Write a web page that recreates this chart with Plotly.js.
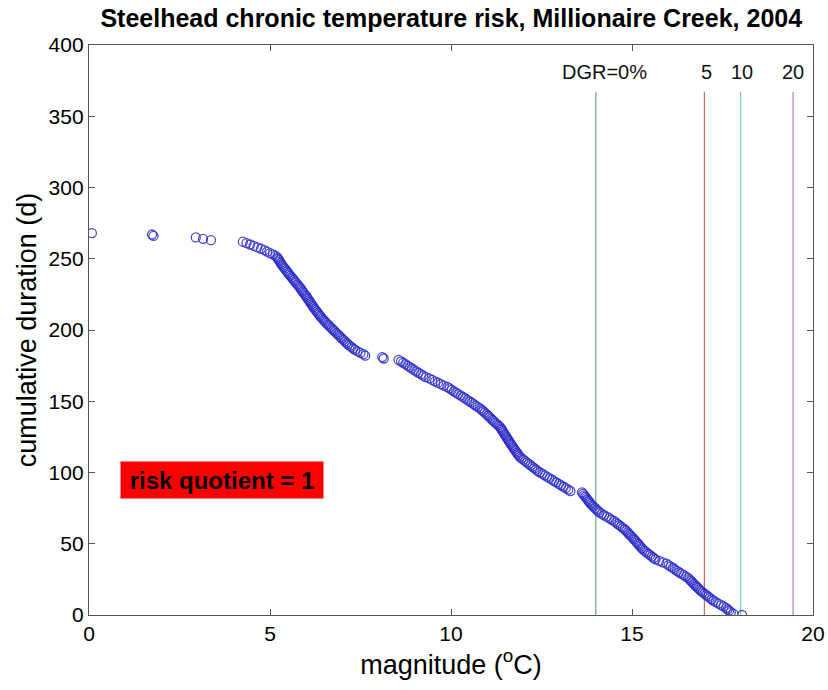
<!DOCTYPE html>
<html>
<head>
<meta charset="utf-8">
<script src="https://cdn.plot.ly/plotly-3.0.1.min.js"></script>
<style>html,body{margin:0;padding:0;background:#fff;}#chart{width:828px;height:690px;}</style>
</head>
<body>
<div id="chart"></div>
<script>
// Magnitude (°C) for each point, ordered from largest cumulative duration to smallest
const magnitude = [
  0.08, 1.74, 1.78, 2.95, 3.15, 3.37,
  4.25, 4.35, 4.45, 4.55, 4.65, 4.75, 4.85, 4.92, 5.00, 5.08, 5.15, 5.20,
  5.22, 5.25, 5.27, 5.30, 5.32, 5.35, 5.38, 5.41, 5.44, 5.47, 5.50,
  5.53, 5.56, 5.60, 5.63, 5.66, 5.69, 5.72, 5.76, 5.79, 5.82,
  5.85, 5.88, 5.90, 5.93, 5.96, 5.99, 6.02, 6.04, 6.07, 6.10,
  6.12, 6.15, 6.18, 6.20, 6.23, 6.26, 6.29, 6.32, 6.35, 6.38,
  6.41, 6.45, 6.48, 6.52, 6.55, 6.59, 6.63, 6.67, 6.71, 6.75,
  6.79, 6.83, 6.87, 6.91, 6.95, 6.99, 7.03, 7.07, 7.11, 7.15,
  7.20, 7.25, 7.30, 7.35, 7.42, 7.50, 7.58, 7.63,
  8.10, 8.14,
  8.55, 8.62, 8.68, 8.74, 8.80, 8.86, 8.92, 8.98, 9.04, 9.10, 9.17, 9.23, 9.30,
  9.40, 9.48, 9.56, 9.64, 9.72, 9.80, 9.90,
  9.96, 10.02, 10.08, 10.14, 10.20, 10.27, 10.33,
  10.39, 10.45, 10.51, 10.57, 10.63, 10.68, 10.74, 10.80, 10.85,
  10.89, 10.93, 10.98, 11.02, 11.06, 11.10, 11.14, 11.18, 11.22, 11.27, 11.31, 11.35,
  11.38, 11.40, 11.43, 11.45, 11.48, 11.50, 11.53, 11.55, 11.58, 11.60, 11.63, 11.65,
  11.68, 11.71, 11.73, 11.76, 11.79, 11.82, 11.84, 11.87, 11.90,
  11.95, 12.00, 12.05, 12.10, 12.15, 12.20, 12.25, 12.30, 12.35, 12.40,
  12.46, 12.53, 12.59, 12.66, 12.72, 12.79, 12.85,
  12.91, 12.98, 13.04, 13.11, 13.17, 13.24, 13.30,
  13.62, 13.65, 13.68, 13.71, 13.74, 13.77, 13.80, 13.83, 13.86,
  13.90, 13.94, 13.98, 14.02, 14.06, 14.10,
  14.17, 14.23, 14.30, 14.37, 14.43, 14.50,
  14.55, 14.60, 14.65, 14.70, 14.75, 14.80,
  14.84, 14.88, 14.91, 14.95, 14.99, 15.03, 15.06, 15.10,
  15.13, 15.17, 15.20, 15.23, 15.27, 15.30,
  15.35, 15.40, 15.45, 15.50, 15.55, 15.60, 15.65,
  15.75, 15.85, 15.95,
  16.01, 16.07, 16.13, 16.18, 16.24, 16.30,
  16.36, 16.43, 16.49, 16.55,
  16.59, 16.63, 16.66, 16.70, 16.74, 16.78, 16.82, 16.86, 16.90,
  16.95, 17.00, 17.05, 17.10, 17.15, 17.20, 17.25,
  17.32, 17.39, 17.46, 17.53, 17.60,
  17.64, 17.68, 17.73, 17.80, 18.04
];
// Cumulative duration (d) for each point
const duration = [
  268, 267, 266, 265, 264, 263,
  262, 261, 260, 259, 258, 257, 256, 255, 254, 253, 252, 251,
  250, 249, 248, 247, 246, 245, 244, 243, 242, 241, 240,
  239, 238, 237, 236, 235, 234, 233, 232, 231, 230,
  229, 228, 227, 226, 225, 224, 223, 222, 221, 220,
  219, 218, 217, 216, 215, 214, 213, 212, 211, 210,
  209, 208, 207, 206, 205, 204, 203, 202, 201, 200,
  199, 198, 197, 196, 195, 194, 193, 192, 191, 190,
  189, 188, 187, 186, 185, 184, 183, 182,
  181, 180,
  179, 178, 177, 176, 175, 174, 173, 172, 171, 170, 169, 168, 167,
  166, 165, 164, 163, 162, 161, 160,
  159, 158, 157, 156, 155, 154, 153,
  152, 151, 150, 149, 148, 147, 146, 145, 144,
  143, 142, 141, 140, 139, 138, 137, 136, 135, 134, 133, 132,
  131, 130, 129, 128, 127, 126, 125, 124, 123, 122, 121, 120,
  119, 118, 117, 116, 115, 114, 113, 112, 111,
  110, 109, 108, 107, 106, 105, 104, 103, 102, 101,
  100, 99, 98, 97, 96, 95, 94,
  93, 92, 91, 90, 89, 88, 87,
  86, 85, 84, 83, 82, 81, 80, 79, 78,
  77, 76, 75, 74, 73, 72,
  71, 70, 69, 68, 67, 66,
  65, 64, 63, 62, 61, 60,
  59, 58, 57, 56, 55, 54, 53, 52,
  51, 50, 49, 48, 47, 46,
  45, 44, 43, 42, 41, 40, 39,
  38, 37, 36,
  35, 34, 33, 32, 31, 30,
  29, 28, 27, 26,
  25, 24, 23, 22, 21, 20, 19, 18, 17,
  16, 15, 14, 13, 12, 11, 10,
  9, 8, 7, 6, 5,
  4, 3, 2, 1, 0
];
// DGR threshold lines
const thresholdX = [14.0, 17.0, 18.0, 19.45];
const thresholdLabels = ['DGR=0%', '5', '10', '20'];
const thresholdColors = ['#6aa87a', '#cf6a62', '#72c6d2', '#b57ac4'];
const thresholdTop = 367;
const labelY = 381;
const labelX = [14.25, 17.05, 18.05, 19.45];

const xTicks = [0, 5, 10, 15, 20];
const yTicks = [0, 50, 100, 150, 200, 250, 300, 350, 400];

const FONT = 'Liberation Sans, Arial, sans-serif';

const traces = [];
thresholdX.forEach((x, i) => {
  traces.push({
    x: [x, x], y: [0, thresholdTop], mode: 'lines', type: 'scatter',
    line: {color: thresholdColors[i], width: 1.2}, hoverinfo: 'skip', showlegend: false
  });
});
traces.push({
  x: magnitude, y: duration, mode: 'markers', type: 'scatter',
  marker: {symbol: 'circle-open', size: 9, color: 'rgba(45,45,200,0.85)', line: {width: 1.3}},
  showlegend: false
});

const annotations = thresholdLabels.map((t, i) => ({
  x: labelX[i], y: labelY, xref: 'x', yref: 'y', text: t, showarrow: false,
  font: {family: FONT, size: 20, color: '#111'},
  xanchor: 'center', yanchor: 'middle'
}));
annotations.push({
  x: 3.67, y: 94.7, xref: 'x', yref: 'y', text: '<b>risk quotient = 1</b>', showarrow: false,
  font: {family: FONT, size: 24, color: '#000'},
  bgcolor: '#ff0000', width: 200, height: 34, borderpad: 1, xanchor: 'center', yanchor: 'middle'
});

const axisCommon = {
  showline: true, linecolor: '#555', linewidth: 1.2, mirror: 'ticks',
  ticks: 'inside', ticklen: 6, tickcolor: '#555', showgrid: false, zeroline: false,
  tickfont: {family: FONT, size: 21, color: '#000'}
};

const layout = {
  width: 828, height: 690,
  margin: {l: 89, r: 15, t: 45, b: 75},
  paper_bgcolor: '#fff', plot_bgcolor: '#fff',
  title: {
    text: '<b>Steelhead chronic temperature risk, Millionaire Creek, 2004</b>',
    font: {family: FONT, size: 25, color: '#000'},
    x: 0.545, xanchor: 'center', y: 0.973, yanchor: 'middle'
  },
  xaxis: Object.assign({}, axisCommon, {
    range: [0, 20], tickvals: xTicks, ticktext: xTicks.map(String),
    title: {text: 'magnitude (<sup>o</sup>C)', font: {family: FONT, size: 27, color: '#000'}, standoff: 6}
  }),
  yaxis: Object.assign({}, axisCommon, {
    range: [0, 400], tickvals: yTicks, ticktext: yTicks.map(String),
    title: {text: 'cumulative duration (d)', font: {family: FONT, size: 27, color: '#000'}, standoff: 4}
  }),
  annotations: annotations
};

Plotly.newPlot('chart', traces, layout, {displayModeBar: false, staticPlot: true});
</script>
</body>
</html>
